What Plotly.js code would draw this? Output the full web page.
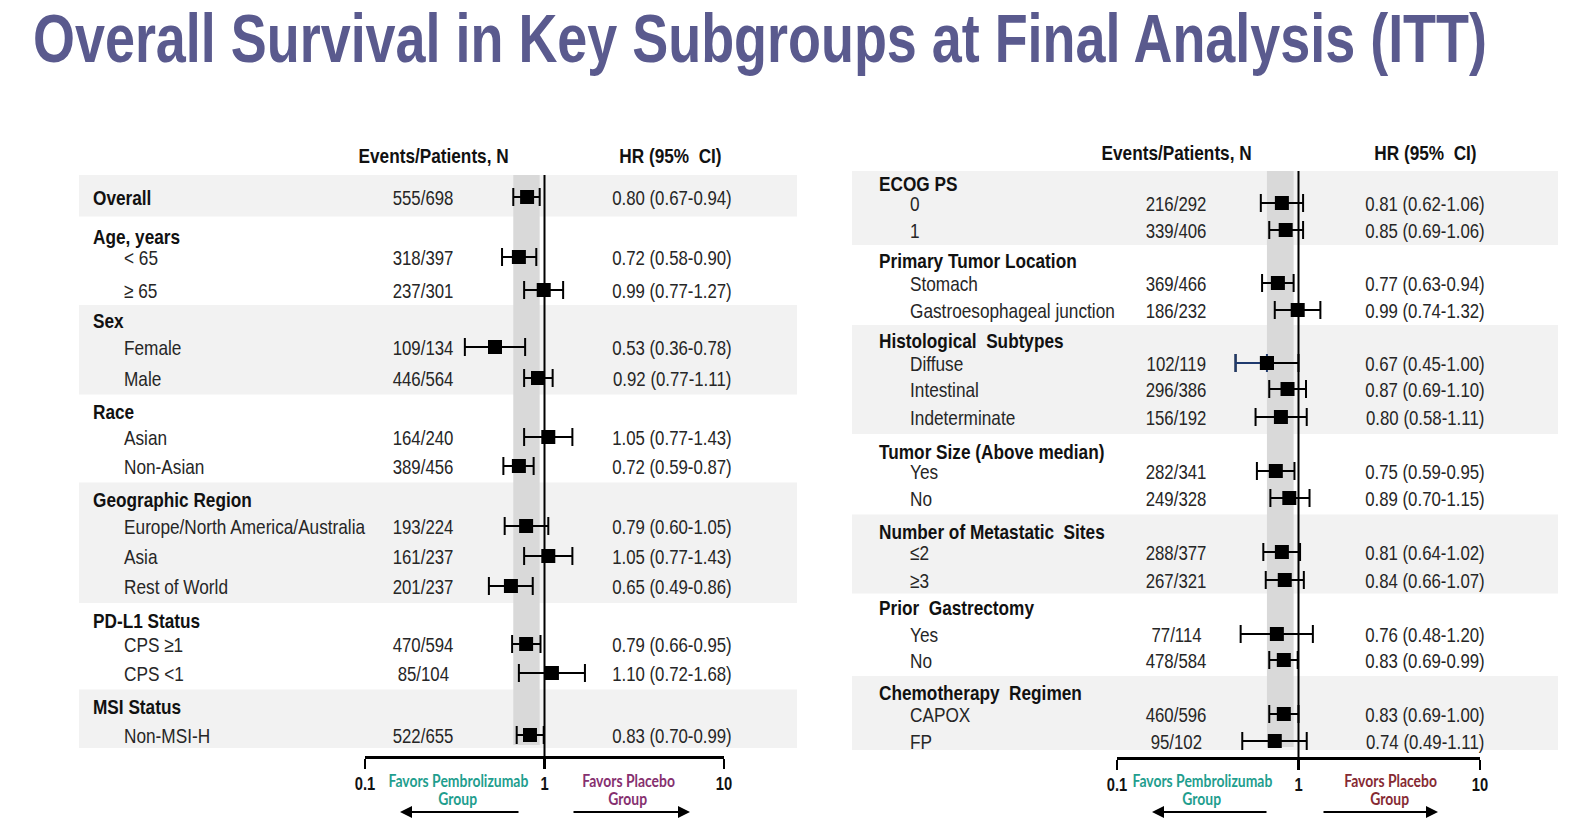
<!DOCTYPE html>
<html><head><meta charset="utf-8">
<script src="https://cdn.plot.ly/plotly-3.0.1.min.js"></script>
<style>html,body{margin:0;padding:0;background:#fff}#chart{width:1570px;height:834px}</style>
</head><body><div id="chart"></div>
<script>
// ---------------- DATA ----------------
const leftLabels = ['Overall','Age, years','< 65','≥ 65','Sex','Female','Male','Race','Asian','Non-Asian',
  'Geographic Region','Europe/North America/Australia','Asia','Rest of World','PD-L1 Status','CPS ≥1','CPS <1','MSI Status','Non-MSI-H'];
const leftEvents = ['555/698','','318/397','237/301','','109/134','446/564','','164/240','389/456',
  '','193/224','161/237','201/237','','470/594','85/104','','522/655'];
const leftHR = [0.80,null,0.72,0.99,null,0.53,0.92,null,1.05,0.72,null,0.79,1.05,0.65,null,0.79,1.10,null,0.83];
const leftLo = [0.67,null,0.58,0.77,null,0.36,0.77,null,0.77,0.59,null,0.60,0.77,0.49,null,0.66,0.72,null,0.70];
const leftHi = [0.94,null,0.90,1.27,null,0.78,1.11,null,1.43,0.87,null,1.05,1.43,0.86,null,0.95,1.68,null,0.99];
const leftGroupStarts = [0,1,4,7,10,14,17];

const rightLabels = ['ECOG PS','0','1','Primary Tumor Location','Stomach','Gastroesophageal junction',
  'Histological  Subtypes','Diffuse','Intestinal','Indeterminate','Tumor Size (Above median)','Yes','No',
  'Number of Metastatic  Sites','≤2','≥3','Prior  Gastrectomy','Yes','No','Chemotherapy  Regimen','CAPOX','FP'];
const rightEvents = ['','216/292','339/406','','369/466','186/232','','102/119','296/386','156/192','','282/341','249/328',
  '','288/377','267/321','','77/114','478/584','','460/596','95/102'];
const rightHR = [null,0.81,0.85,null,0.77,0.99,null,0.67,0.87,0.80,null,0.75,0.89,null,0.81,0.84,null,0.76,0.83,null,0.83,0.74];
const rightLo = [null,0.62,0.69,null,0.63,0.74,null,0.45,0.69,0.58,null,0.59,0.70,null,0.64,0.66,null,0.48,0.69,null,0.69,0.49];
const rightHi = [null,1.06,1.06,null,0.94,1.32,null,1.00,1.10,1.11,null,0.95,1.15,null,1.02,1.07,null,1.20,0.99,null,1.00,1.11];
const rightGroupStarts = [0,3,6,10,13,16,19];
const rightNavyLowerArm = ['Diffuse'];

const overallHR = {lo: 0.67, hi: 0.94};
const tickVals = [0.1, 1, 10];
const tickText = ['0.1','1','10'];

// ---------------- LAYOUT / STYLE ----------------
const W = 1570, H = 834;
const FONT = '"Liberation Sans Narrow","Arial Narrow","Liberation Sans",Arial,sans-serif';
const FAVFONT = 'Lato,"Liberation Sans",Arial,sans-serif';
const NARROW = 0.82;
const TITLE_WIDTH = 1454;
const leftRowY = [197,236,257,290,320,347,378,411,437,466,499,526,556,586,620,644,673,706,735];
const rightRowY = [183,203,230,260,283,310,340,363,389,417,451,471,498,531,552,580,607,634,660,692,714,741];

const panels = [
  {labels:leftLabels, events:leftEvents, hr:leftHR, lo:leftLo, hi:leftHi, groups:leftGroupStarts, rowY:leftRowY,
   xa:'x', axKey:'xaxis', dom:[365,724], axisY:757, headerX:91, subX:122, eventsX:423, hrX:672, bandX:[79,797],
   topPad:22, botPad:13, headY:155, headEvX:433, headHrX:670, navy:[],
   teal:{x:458}, plac:{x:628, color:'#86306f'}, arrows:[[520,400],[572,690]]},
  {labels:rightLabels, events:rightEvents, hr:rightHR, lo:rightLo, hi:rightHi, groups:rightGroupStarts, rowY:rightRowY,
   xa:'x2', axKey:'xaxis2', dom:[1117,1480], axisY:758, headerX:877, subX:908, eventsX:1176, hrX:1425, bandX:[852,1558],
   topPad:12, botPad:9, headY:152, headEvX:1176, headHrX:1425, navy:rightNavyLowerArm,
   teal:{x:1202}, plac:{x:1390, color:'#862a33'}, arrows:[[1268,1152],[1322,1438]]}
];

const traces = [], shapes = [], annotations = [];
const layout = {
  width: W, height: H, margin:{l:0,r:0,t:0,b:0}, paper_bgcolor:'#fff', plot_bgcolor:'rgba(0,0,0,0)',
  showlegend:false, font:{family:FONT, color:'#262626'},
  title:{text:'<b>Overall Survival in Key Subgroups at Final Analysis (ITT)</b>', x:33/W, xanchor:'left',
         y:1-38/H, yanchor:'middle', font:{family:FONT, size:68, color:'#5a5a8e'}},
  yaxis:{range:[H,0], domain:[0,1], visible:false, fixedrange:true}
};

panels.forEach(p => {
  layout[p.axKey] = {
    type:'log', range:[-1,1], domain:[p.dom[0]/W, p.dom[1]/W], anchor:'free', position:1-p.axisY/H,
    showgrid:false, zeroline:false, showline:true, linecolor:'#000', linewidth:2.5,
    ticks:'outside', ticklen:10, tickwidth:2.5, tickcolor:'#000', ticklabelstandoff:0,
    tickvals:tickVals, ticktext:tickText.map(t=>'<b>'+t+'</b>'), tickfont:{family:FONT, size:18, color:'#111'},
    fixedrange:true
  };

  const n = p.labels.length;
  p.groups.forEach((g, gi) => {
    const last = (gi+1 < p.groups.length ? p.groups[gi+1] : n) - 1;
    const top = gi === 0 ? p.rowY[g] - p.topPad : (p.rowY[g-1] + p.rowY[g]) / 2;
    const bot = gi+1 < p.groups.length ? (p.rowY[last] + p.rowY[last+1]) / 2 : p.rowY[last] + p.botPad;
    if (gi % 2 === 0) {
      shapes.push({type:'rect', layer:'below', xref:'paper', yref:'y', x0:p.bandX[0]/W, x1:p.bandX[1]/W,
        y0:top, y1:bot, fillcolor:'#f2f2f2', line:{width:0}});
    }
    if (gi === 0) p.top = top;
    if (gi === p.groups.length-1) p.bot = bot;
  });
  shapes.push({type:'rect', layer:'below', xref:p.xa, yref:'y', x0:overallHR.lo, x1:overallHR.hi,
    y0:p.top, y1:p.bot - 3, fillcolor:'#d9d9d9', line:{width:0}});
  shapes.push({type:'line', layer:'below', xref:p.xa, yref:'y', x0:1, x1:1, y0:p.top, y1:p.axisY,
    line:{color:'#000', width:2}});

  const idx = p.hr.map((v,i)=>v==null?null:i).filter(i=>i!=null);
  traces.push({
    type:'scatter', mode:'markers', xaxis:p.xa, yaxis:'y', cliponaxis:false,
    x: idx.map(i=>p.hr[i]), y: idx.map(i=>p.rowY[i]),
    marker:{symbol:'square', size:14, color:'#000'},
    error_x:{type:'data', symmetric:false, array: idx.map(i=>p.hi[i]-p.hr[i]), arrayminus: idx.map(i=>p.hr[i]-p.lo[i]),
      color:'#000', thickness:2, width:9},
    hoverinfo:'skip'
  });
  const nidx = idx.filter(i=>p.navy.includes(p.labels[i]));
  if (nidx.length) {
    traces.push({
      type:'scatter', mode:'markers', xaxis:p.xa, yaxis:'y', cliponaxis:false,
      x: nidx.map(i=>p.hr[i]), y: nidx.map(i=>p.rowY[i]),
      marker:{symbol:'square', size:14, color:'#000'},
      error_x:{type:'data', symmetric:false, array: nidx.map(()=>0), arrayminus: nidx.map(i=>p.hr[i]-p.lo[i]),
        color:'#1f3a6e', thickness:2, width:9},
      hoverinfo:'skip'
    });
  }

  const isHeader = i => p.events[i]==='' || p.labels[i]==='Overall';
  p.labels.forEach((lab,i) => {
    const hdr = isHeader(i);
    annotations.push({xref:'paper', yref:'y', x:(hdr?p.headerX:p.subX)/W, y:p.rowY[i], xanchor:'left', yanchor:'middle',
      text: hdr ? '<b>'+lab+'</b>' : lab, showarrow:false,
      font:{family:FONT, size:21, color: hdr ? '#111' : '#262626'}});
    if (p.events[i]) {
      annotations.push({xref:'paper', yref:'y', x:p.eventsX/W, y:p.rowY[i], xanchor:'center', yanchor:'middle',
        text:p.events[i], showarrow:false, font:{family:FONT, size:20.5, color:'#262626'}});
    }
    if (p.hr[i]!=null) {
      annotations.push({xref:'paper', yref:'y', x:p.hrX/W, y:p.rowY[i], xanchor:'center', yanchor:'middle',
        text:`${p.hr[i].toFixed(2)} (${p.lo[i].toFixed(2)}-${p.hi[i].toFixed(2)})`, showarrow:false,
        font:{family:FONT, size:20.5, color:'#262626'}});
    }
  });
  annotations.push({xref:'paper', yref:'y', x:p.headEvX/W, y:p.headY, xanchor:'center', yanchor:'middle',
    text:'<b>Events/Patients, N</b>', showarrow:false, font:{family:FONT, size:21, color:'#111'}});
  annotations.push({xref:'paper', yref:'y', x:p.headHrX/W, y:p.headY, xanchor:'center', yanchor:'middle',
    text:'<b>HR (95%  CI)</b>', showarrow:false, font:{family:FONT, size:21, color:'#111'}});
  [['Favors Pembrolizumab', p.teal.x, 780, '#1f9e8e'], ['Group', p.teal.x, 798, '#1f9e8e'],
   ['Favors Placebo', p.plac.x, 780, p.plac.color], ['Group', p.plac.x, 798, p.plac.color]].forEach(([t,x,y,c]) => {
    annotations.push({xref:'paper', yref:'y', x:x/W, y:y, xanchor:'center', yanchor:'middle',
      text:'<b>'+t+'</b>', showarrow:false, font:{family:FAVFONT, size:17, color:c}});
  });
  p.arrows.forEach(([tail, head]) => {
    annotations.push({xref:'paper', yref:'y', x:head/W, y:812, ax:tail-head, ay:0, text:'', showarrow:true,
      arrowhead:2, arrowsize:1.2, arrowwidth:2, arrowcolor:'#000'});
  });
});

layout.shapes = shapes;
layout.annotations = annotations;

function squeeze(el, s, anchor) {
  const bb = el.getBBox();
  if (!bb.width) return;
  const ox = anchor === 'left' ? bb.x : anchor === 'right' ? bb.x + bb.width : bb.x + bb.width / 2;
  const prev = el.getAttribute('transform') || '';
  el.setAttribute('transform', `${prev} translate(${ox},0) scale(${s},1) translate(${-ox},0)`);
}

Plotly.newPlot('chart', traces, layout, {staticPlot:true, displayModeBar:false}).then(gd => {
  document.querySelectorAll('g.annotation').forEach((g, k) => {
    const di = g.getAttribute('data-index');
    const a = layout.annotations[di != null ? +di : k];
    const t = g.querySelector('text.annotation-text');
    if (t && a) squeeze(t, NARROW, a.xanchor);
  });
  document.querySelectorAll('.xtick text, .x2tick text').forEach(t => squeeze(t, NARROW, 'center'));
  const tt = document.querySelector('text.gtitle');
  if (tt) { const w = tt.getBBox().width; squeeze(tt, TITLE_WIDTH / w, 'left'); }
});
</script>
</body></html>
